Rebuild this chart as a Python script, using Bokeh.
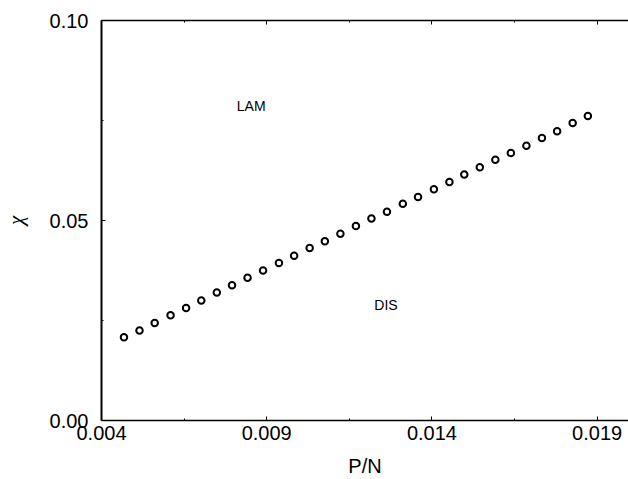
from bokeh.plotting import figure
from bokeh.models import LinearAxis, FixedTicker, PrintfTickFormatter, CustomJSTickFormatter
from bokeh.core.properties import value
from bokeh.embed import file_html
from bokeh.resources import INLINE

# ---- data ----
p_over_n = [0.00468, 0.00515, 0.00561, 0.00609, 0.00656, 0.00702, 0.00749,
            0.00795, 0.00842, 0.00889, 0.00937, 0.00983, 0.01030, 0.01076,
            0.01123, 0.01170, 0.01217, 0.01264, 0.01312, 0.01358, 0.01406,
            0.01453, 0.01498, 0.01545, 0.01592, 0.01639, 0.01686, 0.01733,
            0.01779, 0.01826, 0.01872]
chi = [0.0208, 0.0225, 0.0244, 0.0263, 0.0281, 0.0300, 0.0320, 0.0338,
       0.0357, 0.0375, 0.0394, 0.0412, 0.0431, 0.0448, 0.0467, 0.0486,
       0.0505, 0.0522, 0.0542, 0.0559, 0.0578, 0.0596, 0.0615, 0.0633,
       0.0652, 0.0669, 0.0687, 0.0706, 0.0723, 0.0744, 0.0761]

x_ticks = [0.004, 0.009, 0.014, 0.019]
x_minor_ticks = [0.0065, 0.0115, 0.0165]
y_ticks = [0.0, 0.05, 0.10]
y_minor_ticks = [0.025, 0.075]

region_names = ["LAM", "DIS"]
region_x = [0.00853, 0.01261]
region_y = [0.0787, 0.0288]

FONT = "Liberation Sans"

p = figure(width=628, height=479, output_backend="svg", toolbar_location=None,
           x_range=(0.004, 0.01995), y_range=(0.0, 0.10),
           min_border_left=101, min_border_top=20, min_border_right=0,
           min_border_bottom=54, outline_line_color=None,
           background_fill_color=None, border_fill_color=None,
           x_axis_label="P/N", y_axis_label="χ")
p.grid.visible = False

# bottom axis
xa = p.xaxis[0]
xa.ticker = FixedTicker(ticks=x_ticks, minor_ticks=x_minor_ticks)
xa.formatter = PrintfTickFormatter(format="%.3f")
xa.axis_line_width = 1.5
xa.axis_line_color = "black"
xa.major_tick_in = 4
xa.major_tick_out = 0
xa.minor_tick_in = 2
xa.minor_tick_out = 0
xa.major_label_standoff = 5
xa.major_label_text_font = FONT
xa.major_label_text_font_size = "20px"
xa.major_label_text_color = "black"
xa.axis_label_standoff = 12
xa.axis_label_text_font = FONT
xa.axis_label_text_font_size = "20px"
xa.axis_label_text_font_style = "normal"
xa.axis_label_text_color = "black"

# left axis
ya = p.yaxis[0]
ya.ticker = FixedTicker(ticks=y_ticks, minor_ticks=y_minor_ticks)
ya.formatter = PrintfTickFormatter(format="%.2f")
ya.axis_line_width = 2
ya.axis_line_color = "black"
ya.major_tick_in = 4
ya.major_tick_out = 0
ya.minor_tick_in = 2
ya.minor_tick_out = 0
ya.major_label_standoff = 13
ya.major_label_text_font = FONT
ya.major_label_text_font_size = "20px"
ya.major_label_text_color = "black"
ya.axis_label_standoff = 19
ya.axis_label_text_font = "Liberation Serif"
ya.axis_label_text_font_size = "21px"
ya.axis_label_text_font_style = "italic"
ya.axis_label_text_color = "black"

# top frame line with inward ticks, no labels
top = LinearAxis(ticker=FixedTicker(ticks=x_ticks, minor_ticks=x_minor_ticks),
                 formatter=CustomJSTickFormatter(code="return ''"),
                 major_label_standoff=0,
                 major_tick_in=4, major_tick_out=0, minor_tick_in=2,
                 minor_tick_out=0, axis_line_width=1.5, axis_line_color="black")
p.add_layout(top, "above")

p.scatter(p_over_n, chi, marker="circle", size=6.5, line_color="black",
          line_width=2, fill_color="white")

p.text(x=region_x, y=region_y, text=region_names,
       text_font=value(FONT), text_font_size="14px",
       text_align="center", text_baseline="middle", text_color="black")

open("out.html", "w").write(file_html(p, INLINE))
